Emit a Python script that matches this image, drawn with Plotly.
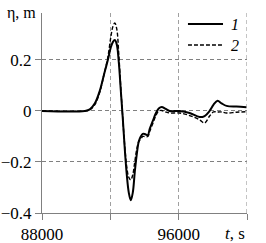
import plotly.graph_objects as go

# time, s
t = [88000, 90500, 90800, 91095, 91387, 91620, 91854, 92029, 92146, 92263,
     92380, 92496, 92613, 92730, 92846, 92963, 93080, 93197, 93314, 93430,
     93547, 93664, 93781, 93898, 94014, 94190, 94306, 94481, 94656, 94832,
     95007, 95240, 95474, 96058, 96642, 97226, 97518, 97810, 98043, 98277,
     98510, 98802, 99386, 99970]

# series 1 (solid), eta, m
eta1 = [0.0, 0.0, 0.006, 0.03, 0.08, 0.14, 0.2, 0.25, 0.27, 0.278,
        0.26, 0.19, 0.08, -0.03, -0.15, -0.25, -0.32, -0.35, -0.32, -0.24,
        -0.17, -0.12, -0.10, -0.09, -0.09, -0.095, -0.07, -0.04, -0.01, 0.01,
        0.016, 0.008, 0.0, 0.0, -0.008, -0.024, -0.02, 0.0, 0.025, 0.04,
        0.03, 0.02, 0.017, 0.015]

# series 2 (dashed), eta, m
eta2 = [0.0, 0.0, 0.005, 0.025, 0.075, 0.14, 0.21, 0.29, 0.33, 0.345,
        0.32, 0.22, 0.09, -0.03, -0.14, -0.22, -0.26, -0.27, -0.25, -0.20,
        -0.15, -0.12, -0.11, -0.10, -0.10, -0.10, -0.08, -0.05, -0.02, 0.0,
        0.002, -0.004, -0.008, -0.008, -0.018, -0.035, -0.047, -0.02, -0.004, -0.004,
        -0.004, -0.008, -0.005, -0.003]

series_names = ["1", "2"]

x_tickvals = [88000, 92000, 96000, 100000]
x_ticktext = ["88000", "", "96000", ""]
y_tickvals = [-0.4, -0.2, 0, 0.2]
y_ticktext = ["\u22120.4", "\u22120.2", "0", "0.2"]

serif = "Liberation Serif"
styles = [dict(color="black", width=2), dict(color="black", width=1.4, dash="4px,2px")]

fig = go.Figure()
for y, name, st in zip([eta1, eta2], series_names, styles):
    fig.add_trace(go.Scatter(x=t, y=y, mode="lines", name=name,
                             line=dict(shape="spline", **st)))

fig.add_shape(type="line", x0=100000, x1=100000, y0=-0.4, y1=0.384,
              xref="x", yref="y", line=dict(color="#888", width=1, dash="4px,3px"))

# legend drawn as key lines + labels in paper coordinates
legend_rows_y = [0.945, 0.84]
annotations = []
for ly, name, st in zip(legend_rows_y, series_names, styles):
    fig.add_shape(type="line", xref="paper", yref="paper", x0=0.712, x1=0.883,
                  y0=ly, y1=ly, line=st)
    annotations.append(dict(text="<i>" + name + "</i>", x=0.912, xref="paper", xanchor="left",
                            y=ly, yref="paper", yanchor="middle", showarrow=False,
                            font=dict(family=serif, size=16)))

annotations += [
    dict(text="\u03b7, m", x=0, xref="paper", xanchor="right", xshift=-4,
         y=1.0, yref="paper", yanchor="middle", showarrow=False,
         font=dict(family=serif, size=16)),
    dict(text="<i>t</i>, s", x=1.0, xref="paper", xanchor="right", xshift=0,
         y=0, yref="paper", yanchor="top", yshift=-9, showarrow=False,
         font=dict(family=serif, size=17)),
]

fig.update_layout(
    template="none",
    width=266, height=243,
    margin=dict(l=42, r=19, t=13, b=30, autoexpand=False),
    paper_bgcolor="white", plot_bgcolor="white",
    font=dict(family=serif, size=16, color="black"),
    showlegend=False,
    xaxis=dict(range=[88000, 100000], tickvals=x_tickvals, ticktext=x_ticktext,
               automargin=False,
               showline=True, linecolor="#808080", linewidth=1,
               ticks="outside", ticklen=6, tickcolor="#808080",
               showgrid=True, gridcolor="#a0a0a0", griddash="4px,3px", gridwidth=1,
               zeroline=False, tickfont=dict(family=serif, size=17)),
    yaxis=dict(range=[-0.4, 0.384], tickvals=y_tickvals, ticktext=y_ticktext,
               automargin=False,
               showline=True, linecolor="#808080", linewidth=1,
               ticks="outside", ticklen=6, tickcolor="#808080",
               showgrid=True, gridcolor="#808080", griddash="4px,3px", gridwidth=1,
               zeroline=False, tickfont=dict(family=serif, size=17)),
    annotations=annotations,
)

fig.write_html("out.html", config={"displayModeBar": False},
               post_script="document.body.style.margin='0px';")
